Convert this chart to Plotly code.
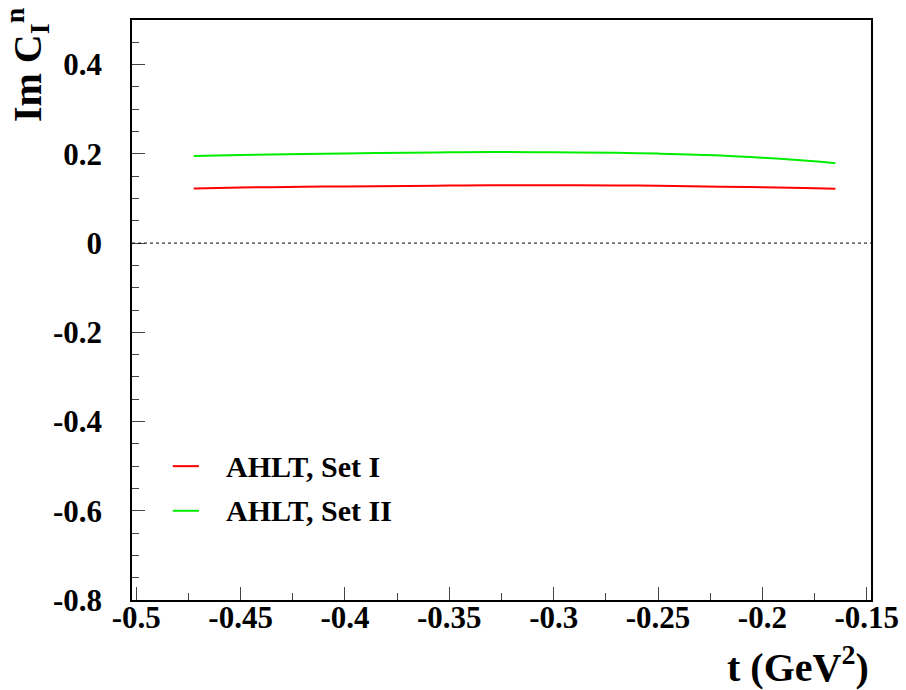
import plotly.graph_objects as go

# Data
t_vals = [-0.4725, -0.45, -0.42, -0.40, -0.37, -0.35, -0.33, -0.30, -0.27, -0.25, -0.22, -0.20, -0.18, -0.165]
set1 = [0.1226, 0.1245, 0.1262, 0.1270, 0.1282, 0.1290, 0.1296, 0.1298, 0.1292, 0.1283, 0.1265, 0.1250, 0.1232, 0.1218]
set2 = [0.1950, 0.1975, 0.1998, 0.2010, 0.2025, 0.2035, 0.2040, 0.2035, 0.2022, 0.2005, 0.1965, 0.1915, 0.1850, 0.1790]
series_names = ["AHLT, Set I", "AHLT, Set II"]
series_colors = ["#ff0000", "#00ee00"]

x_ticks = [-0.5, -0.45, -0.4, -0.35, -0.3, -0.25, -0.2, -0.15]
x_tick_text = ["-0.5", "-0.45", "-0.4", "-0.35", "-0.3", "-0.25", "-0.2", "-0.15"]
y_ticks = [0.4, 0.2, 0, -0.2, -0.4, -0.6, -0.8]
y_tick_text = ["0.4", "0.2", "0", "-0.2", "-0.4", "-0.6", "-0.8"]

FONT = "Liberation Serif"

fig = go.Figure()
for ys, name, col in zip([set1, set2], series_names, series_colors):
    fig.add_trace(go.Scatter(x=t_vals, y=ys, mode="lines", name=name,
                             line=dict(color=col, width=2, shape="spline"),
                             showlegend=False))

# zero reference line
fig.add_shape(type="line", xref="paper", yref="y", x0=0, x1=1, y0=0, y1=0,
              line=dict(color="black", width=1, dash="dot"))

# manual legend
legend_y = [-0.5, -0.6]
for yv, name, col in zip(legend_y, series_names, series_colors):
    fig.add_shape(type="line", xref="x", yref="y", x0=-0.4825, x1=-0.47, y0=yv, y1=yv,
                  line=dict(color=col, width=2))
    fig.add_annotation(x=-0.458, y=yv, xref="x", yref="y", text="<b>%s</b>" % name,
                       showarrow=False, xanchor="left", yanchor="middle",
                       font=dict(family=FONT, size=30, color="black"))

fig.add_annotation(xref="paper", yref="paper", x=-0.142, y=1.025,
                   text="<b>Im C<sub>I</sub><sup>n</sup></b>", textangle=-90,
                   showarrow=False, xanchor="center", yanchor="top",
                   font=dict(family=FONT, size=40, color="black"))
fig.add_annotation(xref="paper", yref="paper", x=1.0, y=-0.112,
                   text="<b>t (GeV<sup>2</sup>)</b>",
                   showarrow=False, xanchor="right", yanchor="middle",
                   font=dict(family=FONT, size=40, color="black"))

tickfont = dict(family=FONT, size=31, color="black", weight="bold")

fig.update_layout(
    template="none",
    width=906, height=690,
    margin=dict(l=132, r=35, t=20, b=90),
    paper_bgcolor="white", plot_bgcolor="white",
    font=dict(family=FONT, size=30, color="black"),
)
fig.update_xaxes(range=[-0.50206, -0.14794], showgrid=False, zeroline=False,
                 showline=True, mirror=True, linecolor="black", linewidth=1.5,
                 ticks="inside", ticklen=13, tickcolor="#444", tickwidth=1,
                 tickvals=x_ticks, ticktext=x_tick_text,
                 tickfont=tickfont, ticklabelstandoff=-11,
                 minor=dict(dtick=0.025, tick0=-0.5, ticks="inside", ticklen=7, tickcolor="#444"))
fig.update_yaxes(range=[-0.8, 0.5], showgrid=False, zeroline=False,
                 showline=True, mirror=True, linecolor="black", linewidth=1.5,
                 ticks="inside", ticklen=13, tickcolor="#444", tickwidth=1,
                 tickvals=y_ticks, ticktext=y_tick_text,
                 tickfont=tickfont,
                 ticklabelstandoff=22,
                 minor=dict(dtick=0.05, tick0=0, ticks="inside", ticklen=7, tickcolor="#444"))

fig.write_html("out.html")
